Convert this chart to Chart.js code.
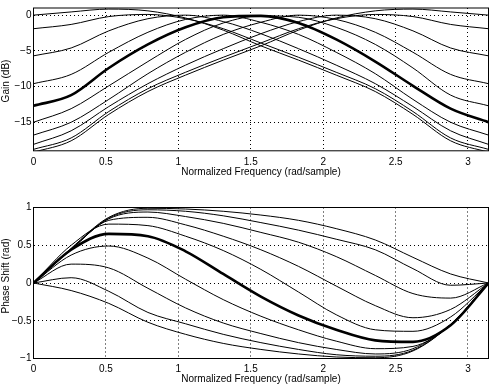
<!DOCTYPE html>
<html>
<head>
<meta charset="utf-8">
<script src="https://cdn.jsdelivr.net/npm/chart.js@4.4.1/dist/chart.umd.min.js"></script>
<style>
  body { margin: 0; background: #fff; }
  #wrap { position: relative; width: 489px; height: 386px; }
  canvas { position: absolute; left: 0; }
</style>
</head>
<body>
<div id="wrap">
  <canvas id="gainChart" width="489" height="185" style="top:0"></canvas>
  <canvas id="phaseChart" width="489" height="194" style="top:192px"></canvas>
</div>
<script>
// frequency samples (rad/sample)
const freq = [0, 0.26, 0.52, 0.79, 1.05, 1.31, 1.57, 1.83, 2.09, 2.36, 2.62, 2.88, 3.1416];

// gain curves (dB)
const gain0 = [0, 0.45, 0.85, 0.6, -0.4, -2.1, -4.3, -6.3, -8.4, -10.7, -13.9, -17.6, -19.2];
const gain1 = [-1.9, -1.3, -0.2, 0.1, -0.5, -1.9, -3.9, -5.9, -8.0, -10.3, -13.5, -17.2, -18.8];
const gain2 = [-5.7, -4.6, -2.2, -0.5, 0, -0.9, -2.6, -4.7, -7.0, -9.6, -12.8, -16.2, -18.1];
const gain3 = [-9.6, -8.3, -5.2, -2.4, -0.6, 0, -1.0, -2.7, -5.2, -8.2, -11.8, -15.0, -16.8];
const gain4 = [-12.7, -11.2, -7.4, -4.1, -1.7, -0.3, -0.1, -1.1, -3.4, -6.5, -9.9, -13.1, -15.0];
const gain5 = [-15.0, -13.1, -9.9, -6.5, -3.4, -1.1, -0.1, -0.3, -1.7, -4.1, -7.4, -11.2, -12.7];
const gain6 = [-16.8, -15.0, -11.8, -8.2, -5.2, -2.7, -1.0, 0, -0.6, -2.4, -5.2, -8.3, -9.6];
const gain7 = [-18.1, -16.2, -12.8, -9.6, -7.0, -4.7, -2.6, -0.9, 0, -0.5, -2.2, -4.6, -5.7];
const gain8 = [-18.8, -17.2, -13.5, -10.3, -8.0, -5.9, -3.9, -1.9, -0.5, 0.1, -0.2, -1.3, -1.9];
const gain9 = [-19.2, -17.6, -13.9, -10.7, -8.4, -6.3, -4.3, -2.1, -0.4, 0.6, 0.85, 0.45, 0];

// phase shift curves (rad)
const phase0 = [0, -0.1, -0.27, -0.52, -0.68, -0.8, -0.88, -0.94, -0.98, -0.99, -0.9, -0.55, 0];
const phase1 = [0, 0.07, -0.11, -0.39, -0.54, -0.68, -0.79, -0.88, -0.95, -0.97, -0.89, -0.55, 0];
const phase2 = [0, 0.25, 0.2, -0.07, -0.33, -0.53, -0.67, -0.79, -0.88, -0.94, -0.87, -0.55, 0];
const phase3 = [0, 0.37, 0.49, 0.33, 0.05, -0.22, -0.44, -0.62, -0.77, -0.87, -0.84, -0.55, 0];
const phase4 = [0, 0.44, 0.65, 0.62, 0.42, 0.12, -0.18, -0.43, -0.62, -0.76, -0.78, -0.56, 0];
const phase5 = [0, 0.5, 0.78, 0.76, 0.62, 0.43, 0.18, -0.12, -0.42, -0.62, -0.64, -0.45, 0];
const phase6 = [0, 0.44, 0.83, 0.87, 0.77, 0.62, 0.44, 0.22, -0.04, -0.3, -0.46, -0.35, 0];
const phase7 = [0, 0.45, 0.85, 0.94, 0.88, 0.79, 0.67, 0.54, 0.35, 0.1, -0.14, -0.2, 0];
const phase8 = [0, 0.45, 0.86, 0.97, 0.95, 0.89, 0.8, 0.7, 0.58, 0.44, 0.19, -0.03, 0];
const phase9 = [0, 0.46, 0.87, 0.99, 0.98, 0.95, 0.9, 0.83, 0.72, 0.57, 0.34, 0.12, 0];

const gainSeries = [gain0, gain1, gain2, gain3, gain4, gain5, gain6, gain7, gain8, gain9];
const phaseSeries = [phase0, phase1, phase2, phase3, phase4, phase5, phase6, phase7, phase8, phase9];
const thickIndex = 4;

// tick labels
const freqTicks = [0, 0.5, 1, 1.5, 2, 2.5, 3];
const gainTicks = [-15, -10, -5, 0];
const phaseTicks = [-1, -0.5, 0, 0.5, 1];

const FONT = { family: "'Liberation Sans', Arial, Helvetica, sans-serif", size: 10 };

function makeDatasets(series) {
  return series.map((vals, i) => ({
    data: freq.map((f, k) => ({ x: f, y: vals[k] })),
    borderColor: '#000',
    borderWidth: i === thickIndex ? 2.6 : 1,
    pointRadius: 0,
    cubicInterpolationMode: 'monotone',
    fill: false
  }));
}

// plain number, with a real minus sign
function tickText(v) {
  return String(v).replace('-', '\u2212');
}

// black box around the plot + rotated y label placed like the original
const boxPlugin = {
  id: 'box',
  afterDraw(chart, args, opts) {
    const { ctx, chartArea: a } = chart;
    ctx.save();
    ctx.strokeStyle = '#000';
    ctx.lineWidth = 1;
    ctx.strokeRect(a.left, a.top, a.right - a.left, a.bottom - a.top);
    ctx.font = "10px 'Liberation Sans', Arial, sans-serif";
    ctx.fillStyle = '#000';
    ctx.textAlign = 'center';
    ctx.textBaseline = 'middle';
    ctx.translate(opts.x, opts.y);
    ctx.rotate(-Math.PI / 2);
    ctx.fillText(opts.text, 0, 0);
    ctx.restore();
  }
};

function makeChart(id, series, yMin, yMax, yTicks, pad, xHeight, labelPad, titlePad, yLabel) {
  return new Chart(document.getElementById(id), {
    type: 'line',
    data: { datasets: makeDatasets(series) },
    plugins: [boxPlugin],
    options: {
      responsive: false,
      animation: false,
      events: [],
      layout: { padding: pad },
      plugins: {
        legend: { display: false },
        tooltip: { enabled: false },
        box: yLabel
      },
      scales: {
        x: {
          type: 'linear',
          min: 0,
          max: Math.PI,
          afterBuildTicks: (axis) => { axis.ticks = freqTicks.map(v => ({ value: v })); },
          afterFit: (axis) => { axis.height = xHeight; },
          ticks: { color: '#000', font: FONT, padding: labelPad, maxRotation: 0, autoSkip: false, callback: tickText },
          grid: { color: '#000', lineWidth: 1, drawTicks: false },
          border: { display: false, dash: [1, 3] },
          title: {
            display: true,
            text: 'Normalized Frequency (rad/sample)',
            color: '#000',
            font: FONT,
            padding: { top: 0, bottom: titlePad }
          }
        },
        y: {
          min: yMin,
          max: yMax,
          afterBuildTicks: (axis) => { axis.ticks = yTicks.map(v => ({ value: v })); },
          afterFit: (axis) => { axis.width = 33.5; },
          ticks: { color: '#000', font: FONT, padding: 2, callback: tickText },
          grid: { color: '#000', lineWidth: 1, drawTicks: false },
          border: { display: false, dash: [1, 3] }
        }
      }
    }
  });
}

makeChart('gainChart', gainSeries, -19, 1, gainTicks,
  { top: 0.5, right: 0.5, left: 0, bottom: 0 }, 34.2, 5, 6.5,
  { x: 6, y: 81, text: 'Gain (dB)' });

makeChart('phaseChart', phaseSeries, -1, 1, phaseTicks,
  { top: 15.5, right: 0.5, left: 0, bottom: 0 }, 27.5, 4.5, 0.5,
  { x: 6, y: 84, text: 'Phase Shift (rad)' });
</script>
</body>
</html>
